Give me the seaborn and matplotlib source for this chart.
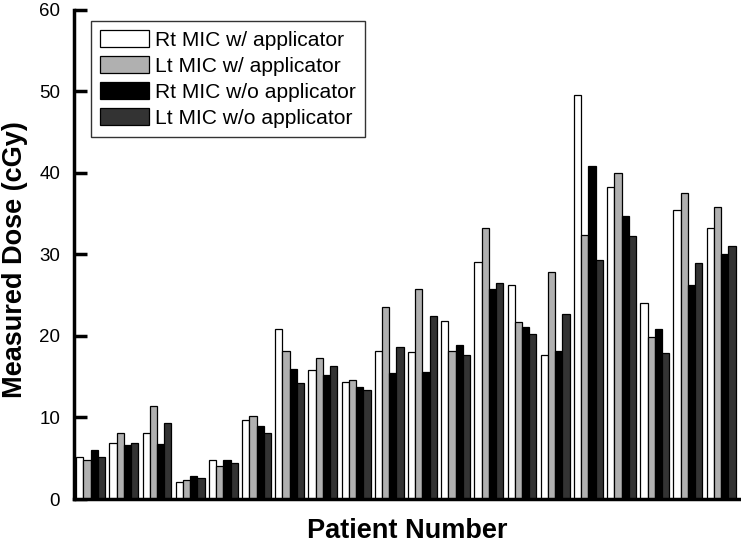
import matplotlib
matplotlib.use("Agg")
import matplotlib.pyplot as plt
import seaborn as sns
import pandas as pd
import numpy as np

patients = [str(i) for i in range(1, 21)]
series = ["Rt MIC w/ applicator", "Lt MIC w/ applicator",
          "Rt MIC w/o applicator", "Lt MIC w/o applicator"]
rt_with = [5.2, 6.9, 8.1, 2.1, 4.8, 9.7, 20.8, 15.8, 14.4, 18.1,
           18.0, 21.8, 29.1, 26.3, 17.7, 49.6, 38.3, 24.1, 35.5, 33.3]
lt_with = [4.8, 8.1, 11.4, 2.3, 4.1, 10.2, 18.2, 17.3, 14.6, 23.5,
           25.8, 18.2, 33.2, 21.7, 27.8, 32.4, 40.0, 19.9, 37.6, 35.8]
rt_without = [6.0, 6.6, 6.7, 2.8, 4.8, 9.0, 15.9, 15.2, 13.8, 15.4,
              15.6, 18.9, 25.8, 21.1, 18.1, 40.9, 34.7, 20.8, 26.2, 30.0]
lt_without = [5.2, 6.9, 9.3, 2.6, 4.4, 8.1, 14.2, 16.3, 13.4, 18.6,
              22.4, 17.7, 26.5, 20.2, 22.7, 29.3, 32.3, 17.9, 29.0, 31.0]
colors = ["#ffffff", "#b0b0b0", "#000000", "#333333"]

rows = []
for name, vals in zip(series, [rt_with, lt_with, rt_without, lt_without]):
    for p, v in zip(patients, vals):
        rows.append({"Patient": p, "Series": name, "Dose": v})
df = pd.DataFrame(rows)

sns.set_style("ticks")
plt.rcParams["font.family"] = ["Liberation Sans", "DejaVu Sans"]

fig = plt.figure(figsize=(7.41, 5.45), dpi=100)
ax = fig.add_axes([0.0999, 0.0844, 0.9001, 0.8973])
sns.barplot(data=df, x="Patient", y="Dose", hue="Series", order=patients,
            hue_order=series, palette=colors, width=0.87, dodge=True,
            edgecolor="black", linewidth=0.9, saturation=1, ax=ax,
            errorbar=None)

ax.set_xlim(-0.5, 19.6)
ax.set_ylim(0, 60)
ax.set_yticks([0, 10, 20, 30, 40, 50, 60])
ax.set_xticks([])
ax.tick_params(axis="y", direction="in", length=9, width=2.5, labelsize=13.5,
               labelcolor="black", color="black", pad=10)
for s in ["top", "right"]:
    ax.spines[s].set_visible(False)
ax.spines["left"].set_linewidth(2.5)
ax.spines["bottom"].set_linewidth(2.5)
ax.spines["left"].set_color("black")
ax.spines["bottom"].set_color("black")
ax.set_xlabel("Patient Number", fontsize=19.5, fontweight="bold", labelpad=14,
              color="black")
ax.set_ylabel("Measured Dose (cGy)", fontsize=19.5, fontweight="bold",
              color="black")
ax.yaxis.label.set_verticalalignment("center")
ax.yaxis.set_label_coords(-0.088, 0.49)

leg = ax.legend(loc="upper left", bbox_to_anchor=(0.0255, 0.9775), fontsize=15.1,
                frameon=True, fancybox=False, edgecolor="black",
                handlelength=2.3, handleheight=0.85, labelspacing=0.3,
                borderpad=0.45, borderaxespad=0, handletextpad=0.3)
leg.get_frame().set_linewidth(1.0)
for t in leg.get_texts():
    t.set_color("black")

fig.savefig("out.png", dpi=100)
